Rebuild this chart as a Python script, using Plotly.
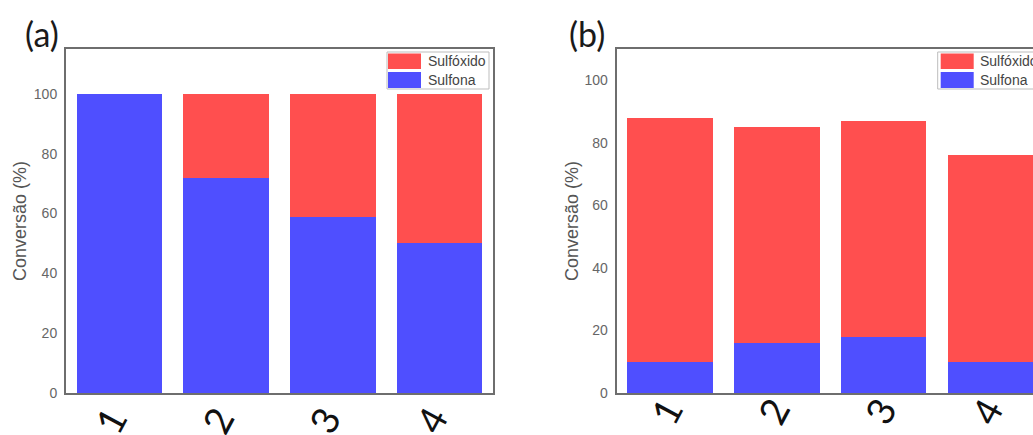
import plotly.graph_objects as go

W, H = 1033, 435

categories = ["1", "2", "3", "4"]
# Panel (a)
a_sulfona = [100, 72, 59, 50]
a_sulfoxido = [0, 28, 41, 50]
# Panel (b)
b_sulfona = [10, 16, 18, 10]
b_sulfoxido = [78, 69, 69, 66]

y_ticks = [0, 20, 40, 60, 80, 100]
series_names = ["Sulfóxido", "Sulfona"]
y_title = "Conversão (%)"

RED = "#FF4F4F"
BLUE = "#4F4FFF"
FRAME = "#6E6E6E"

def px(x):
    return x / W

def py(y):
    return 1 - y / H

fig = go.Figure()
xnum = list(range(1, len(categories) + 1))
fig.add_trace(go.Bar(x=xnum, y=a_sulfona, marker=dict(color=BLUE, line=dict(width=0)),
                     width=0.8, xaxis="x", yaxis="y", showlegend=False, name=series_names[1]))
fig.add_trace(go.Bar(x=xnum, y=a_sulfoxido, marker=dict(color=RED, line=dict(width=0)),
                     width=0.8, xaxis="x", yaxis="y", showlegend=False, name=series_names[0]))
fig.add_trace(go.Bar(x=xnum, y=b_sulfona, marker=dict(color=BLUE, line=dict(width=0)),
                     width=0.8, xaxis="x2", yaxis="y2", showlegend=False, name=series_names[1]))
fig.add_trace(go.Bar(x=xnum, y=b_sulfoxido, marker=dict(color=RED, line=dict(width=0)),
                     width=0.8, xaxis="x2", yaxis="y2", showlegend=False, name=series_names[0]))

ydom = [py(393), py(49)]
unit = (493 - 66) / 4.0
b_left = 616.7
b_right_val = 0.5 + (W - b_left) / unit

xcommon = dict(tickmode="array", tickvals=xnum, showticklabels=False,
               showgrid=False, zeroline=False, ticks="", showline=True, linecolor=FRAME,
               linewidth=2, mirror=True, automargin=False, fixedrange=True)
ycommon = dict(tickmode="array", tickvals=y_ticks, ticktext=[str(v) for v in y_ticks],
               tickfont=dict(family="Arial, Liberation Sans, sans-serif", size=14, color="#666"),
               showgrid=False, zeroline=False, ticks="", showline=True, linecolor=FRAME,
               linewidth=2, automargin=False, ticklabelstandoff=4)

fig.update_layout(
    width=W, height=H, template="none",
    margin=dict(l=0, r=0, t=0, b=0, pad=0),
    paper_bgcolor="white", plot_bgcolor="white",
    barmode="stack", showlegend=False,
    xaxis=dict(domain=[px(66), px(493)], range=[0.5, 4.5], anchor="y", **xcommon),
    yaxis=dict(domain=ydom, range=[0, 115], anchor="x", mirror=True, **ycommon),
    xaxis2=dict(domain=[px(b_left), 1], range=[0.5, b_right_val], anchor="y2", **xcommon),
    yaxis2=dict(domain=ydom, range=[0, 110], anchor="x2", mirror=False, **ycommon),
)

shapes = []
annotations = []

def legend(x0, x1, swx, tx):
    shapes.append(dict(type="rect", xref="paper", yref="paper",
                       x0=px(x0), x1=px(x1), y0=py(89), y1=py(52),
                       line=dict(color="#BDBDBD", width=1), fillcolor="white", layer="above"))
    shapes.append(dict(type="rect", xref="paper", yref="paper",
                       x0=px(swx), x1=px(swx + 33), y0=py(69), y1=py(53.5),
                       line=dict(width=0), fillcolor=RED, layer="above"))
    shapes.append(dict(type="rect", xref="paper", yref="paper",
                       x0=px(swx), x1=px(swx + 33), y0=py(88), y1=py(72),
                       line=dict(width=0), fillcolor=BLUE, layer="above"))
    for name, yc in zip(series_names, [61.5, 80]):
        annotations.append(dict(text=name, xref="paper", yref="paper", x=px(tx), y=py(yc),
                                xanchor="left", yanchor="middle", showarrow=False,
                                font=dict(family="Arial, Liberation Sans, sans-serif", size=14, color="#444")))

legend(387, 489, 388, 426)
legend(937.7, 1045, 940.7, 978)

# rotated category labels (large, partly cut by the bottom edge like the reference)
for xref, ycen, dx in [("x", 420, -9), ("x2", 411, -4)]:
    for xv, lab in zip(xnum, categories):
        annotations.append(dict(text=lab, xref=xref, yref="paper", x=xv, y=py(ycen),
                                xshift=dx, xanchor="center", yanchor="middle",
                                textangle=-62, showarrow=False,
                                font=dict(family="Lato, Open Sans, sans-serif", size=38, color="#111")))

# y-axis titles
for xc in [20, 572]:
    annotations.append(dict(text=y_title, xref="paper", yref="paper", x=px(xc), y=py(221),
                            xanchor="center", yanchor="middle", textangle=-90, showarrow=False,
                            font=dict(family="Arial, Liberation Sans, sans-serif", size=18, color="#555")))

for label, xc in [("(a)", 42), ("(b)", 587)]:
    annotations.append(dict(text=label, xref="paper", yref="paper", x=px(xc), y=py(33),
                            xanchor="center", yanchor="middle", showarrow=False,
                            font=dict(family="Lato, Open Sans, sans-serif", size=34, color="#1a1a1a")))

fig.update_layout(shapes=shapes, annotations=annotations)
fig.write_html("out.html")
